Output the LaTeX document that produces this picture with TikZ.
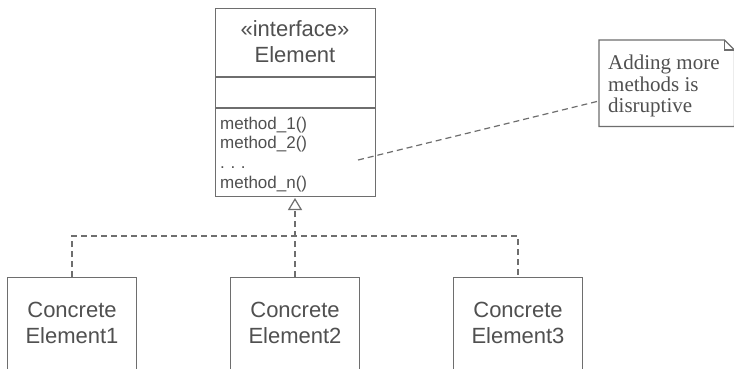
\documentclass[tikz,border=0pt]{standalone}
\usepackage{fontspec}
\setmainfont{Liberation Sans}
\newfontfamily\notefont{Liberation Serif}
\usetikzlibrary{arrows.meta}
\definecolor{linegray}{HTML}{6E6E6E}
\definecolor{textgray}{HTML}{505050}
\begin{document}
\begin{tikzpicture}[x=1pt,y=-1pt,
  box/.style={draw=linegray, line width=1.2pt, fill=white, inner sep=0pt},
  lbl/.style={text=textgray, font=\fontsize{22}{26}\selectfont, inner sep=0pt, anchor=base},
  meth/.style={text=textgray, font=\fontsize{17}{20}\selectfont, inner sep=0pt, anchor=base west},
  notetxt/.style={text=textgray, font=\notefont\fontsize{21}{21.5}\selectfont, inner sep=0pt, anchor=base west},
  dep/.style={draw=linegray, line width=1.2pt, dash pattern=on 6pt off 4pt},
  solidline/.style={draw=linegray, line width=1.2pt}]
\path[use as bounding box] (0,0) rectangle (734,369);
\clip (0,0) rectangle (734,369);
\fill[white] (0,0) rectangle (734,369);

% interface class
\node[box, minimum width=160pt, minimum height=188pt, anchor=north west] (iface) at (215,8) {};
\coordinate (d1) at (0,77);
\coordinate (d2) at (0,108);
\draw[solidline] (iface.west |- d1) -- (iface.east |- d1);
\draw[solidline] (iface.west |- d2) -- (iface.east |- d2);
\node[lbl] (stereo) at (295,37) {«interface»};
\node[lbl] (iname) at (295,63) {Element};
\node[meth] (m1) at (220,129) {method\_1()};
\node[meth] (m2) at (220,148) {method\_2()};
\node[meth] (m3) at (220,168) {.\,\,.\,\,.};
\node[meth] (m4) at (220,188) {method\_n()};

% concrete classes
\node[box, minimum width=129pt, minimum height=110pt, anchor=north] (c1) at (72,277) {};
\node[box, minimum width=129pt, minimum height=110pt, anchor=north] (c2) at (295,277) {};
\node[box, minimum width=129pt, minimum height=110pt, anchor=north] (c3) at (518,277) {};
\node[lbl] (t1a) at (72,317) {Concrete};
\node[lbl] (t1b) at (72,343) {Element1};
\node[lbl] (t2a) at (295,317) {Concrete};
\node[lbl] (t2b) at (295,343) {Element2};
\node[lbl] (t3a) at (518,317) {Concrete};
\node[lbl] (t3b) at (518,343) {Element3};

% realization connectors
\coordinate (bus) at (295,236);
\coordinate (tip) at (295,198);
\draw[dep] (c1.north) |- (bus) -| (c3.north);
\draw[dep, -{Triangle[open, length=12pt, width=14pt, line width=1.2pt]}] (c2.north) -- (tip);

% note
\node[minimum width=135pt, minimum height=86pt, inner sep=0pt, anchor=north west] (note) at (599,40) {};
\draw[solidline, fill=white] (note.north west) -- ([xshift=-10pt]note.north east) -- ([yshift=-10pt]note.north east) -- (note.south east) -- (note.south west) -- cycle;
\draw[solidline] ([xshift=-10pt]note.north east) -- ([xshift=-10pt,yshift=-10pt]note.north east) -- ([yshift=-10pt]note.north east);
\node[notetxt] (n1) at (608,70) {Adding more};
\node[notetxt] (n2) at (608,92) {methods is};
\node[notetxt] (n3) at (608,113) {disruptive};

% note connector
\coordinate (ns) at (358,160);
\coordinate (ne) at (599,101);
\draw[dep] (ns) -- (ne);
\end{tikzpicture}
\end{document}
